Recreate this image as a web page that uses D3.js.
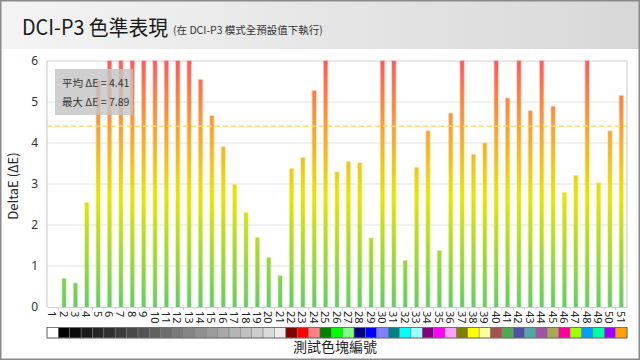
<!DOCTYPE html>
<html><head><meta charset="utf-8">
<script src="https://cdn.jsdelivr.net/npm/d3@7"></script>
<style>html,body{margin:0;padding:0;background:#fff}svg{display:block;font-family:"Noto Sans CJK TC","Noto Sans",sans-serif}</style>
</head><body><svg id="c" width="640" height="360"></svg>
<script>
const categories = d3.range(1, 52).map(String);
const deltaE = [0,0.69,0.58,2.54,5.52,6.85,7.12,7.89,7.45,7.30,6.95,7.20,6.60,5.54,4.66,3.90,2.98,2.30,1.69,1.20,0.76,3.37,3.64,5.27,6.70,3.29,3.54,3.51,1.68,7.05,6.90,1.13,3.40,4.29,1.37,4.72,6.80,3.72,3.99,7.15,5.09,6.75,4.78,7.00,4.89,2.79,3.20,6.65,3.02,4.29,5.15];
const swatches = ["#ffffff","#000000","#0b0b0b","#1b1b1b","#262626","#303030","#3b3b3b","#484848","#545454","#616161","#6d6d6d","#797979","#858585","#909090","#9c9c9c","#a8a8a8","#b4b4b4","#c0c0c0","#cccccc","#dadada","#ececec",
"#800000","#ff0000","#ff8080","#008000","#00ff00","#80ff80","#000080","#0000ff","#8080ff","#008080","#00ffff","#a0ffff","#800080","#ff00ff","#ffa0ff","#808000","#ffff00","#ffffa0","#a85050","#50a850","#5050a8","#50a8a8","#a850a8","#a8a850","#ff00a0","#a0ff00","#00a0ff","#00ffa0","#a000ff","#ffa000"];
const yTicks = [0,1,2,3,4,5,6];
const avgDE = 4.41, maxDE = 7.89;
const title = "DCI-P3 色準表現", subtitle = "(在 DCI-P3 模式全預設值下執行)";
const yTitle = "DeltaE (ΔE)", xTitle = "測試色塊編號";

const svg = d3.select("#c");
const W = 640, H = 360;
const m = {l:47, r:627, t:61, b:307};
const defs = svg.append("defs");
const hg = defs.append("linearGradient").attr("id","hdr").attr("x1","0").attr("x2","1").attr("y1","0").attr("y2","0");
hg.append("stop").attr("offset","0").attr("stop-color","#f4f4f4");
hg.append("stop").attr("offset","1").attr("stop-color","#d8d8d8");
svg.append("rect").attr("x",0).attr("y",0).attr("width",W).attr("height",49).attr("fill","url(#hdr)");
svg.append("rect").attr("x",0.75).attr("y",0.75).attr("width",W-1.5).attr("height",H-1.5).attr("fill","none").attr("stroke","#8a8a8a").attr("stroke-width",1.5);

const tt = svg.append("text").attr("x",22).attr("y",35).attr("font-size",21).attr("fill","#1a1a1a").text(title);
const tw = tt.node().getComputedTextLength();
const tScale = Math.min(1, 146 / tw);
tt.attr("textLength", tw*tScale).attr("lengthAdjust","spacingAndGlyphs");
svg.append("text").attr("x",22 + tw*tScale + 5).attr("y",34).attr("font-size",10.5).attr("fill","#333").text(subtitle);

const x = d3.scaleBand().domain(categories).range([m.l, m.r]).padding(0);
const y = d3.scaleLinear().domain([0,6]).range([m.b, m.t]).clamp(true);

const bg = defs.append("linearGradient").attr("id","bar").attr("gradientUnits","userSpaceOnUse")
  .attr("x1",0).attr("x2",0).attr("y1",y(0)).attr("y2",y(6));
[[0,"#66cc66"],[0.45,"#e6e600"],[0.7,"#f8a830"],[1,"#ff5a5a"]].forEach(s=>bg.append("stop").attr("offset",s[0]).attr("stop-color",s[1]));

// grid
svg.append("g").selectAll("line").data(yTicks.filter(t=>t>0&&t<6)).join("line")
  .attr("x1",m.l).attr("x2",m.r).attr("y1",d=>y(d)).attr("y2",d=>y(d)).attr("stroke","#ececec").attr("stroke-width",1.5);
// frame
svg.append("path").attr("d",`M${m.l},${m.b}V${m.t}H${m.r}V${m.b}`).attr("fill","none").attr("stroke","#d0d0d0").attr("stroke-width",1.2);

// y axis labels
const ya = svg.append("g").attr("transform",`translate(${m.l},0)`).call(d3.axisLeft(y).tickValues(yTicks).tickSize(0).tickPadding(10).tickFormat(d3.format("d")));
ya.select(".domain").remove();
ya.selectAll("text").attr("font-size",12).attr("fill","#333").attr("font-family","'Noto Sans',sans-serif").attr("x",-9);

// bars
const bw = 3.6;
const gB = svg.append("g");
gB.selectAll("rect.halo").data(deltaE).join("rect").attr("class","halo")
  .attr("x",(d,i)=>x(categories[i])+x.bandwidth()/2-bw/2-0.8).attr("width",bw+1.6)
  .attr("y",d=>y(d)-0.8).attr("height",d=>d>0?y(0)-y(d)+0.8:0).attr("fill","url(#bar)").attr("opacity",0.35);
gB.selectAll("rect.bar").data(deltaE).join("rect").attr("class","bar")
  .attr("x",(d,i)=>x(categories[i])+x.bandwidth()/2-bw/2).attr("width",bw)
  .attr("y",d=>y(d)).attr("height",d=>y(0)-y(d)).attr("fill","url(#bar)");

// average line
svg.append("line").attr("x1",m.l).attr("x2",m.r).attr("y1",y(avgDE)).attr("y2",y(avgDE))
  .attr("stroke","#ffd870").attr("stroke-width",1.5).attr("stroke-dasharray","5,3").attr("opacity",0.9);

// x axis
const xa = svg.append("g").attr("transform",`translate(0,${m.b})`).call(d3.axisBottom(x).tickSize(0).tickPadding(0));
xa.select(".domain").attr("stroke","#cfcfcf");
xa.selectAll("text").attr("font-size",11).attr("fill","#222").attr("font-family","'Noto Sans',sans-serif")
  .attr("transform","rotate(90)").attr("text-anchor","start").attr("dominant-baseline","central").attr("dy",0).attr("x",4).attr("y",0);
svg.append("g").selectAll("line").data(categories.slice(1)).join("line")
  .attr("x1",d=>x(d)).attr("x2",d=>x(d)).attr("y1",m.b).attr("y2",m.b+3).attr("stroke","#cfcfcf");

// swatches
svg.append("g").selectAll("rect").data(swatches).join("rect")
  .attr("x",(d,i)=>x(categories[i])).attr("y",327.5).attr("width",x.bandwidth()).attr("height",10.5)
  .attr("fill",d=>d).attr("stroke","#7a7a7a").attr("stroke-width",0.5);
svg.append("rect").attr("x",m.l).attr("y",327.5).attr("width",m.r-m.l).attr("height",10.5).attr("fill","none").attr("stroke","#666").attr("stroke-width",0.8);

// stats box
svg.append("rect").attr("x",55).attr("y",69).attr("width",78).attr("height",46).attr("fill","#c4c4c4").attr("opacity",0.82);
const st = svg.append("g").attr("font-size",10.5).attr("fill","#333");
st.append("text").attr("x",62).attr("y",87).text(`平均 ΔE = ${avgDE.toFixed(2)}`);
st.append("text").attr("x",62).attr("y",106).text(`最大 ΔE = ${maxDE.toFixed(2)}`);

// axis titles
svg.append("text").attr("transform","translate(18,186) rotate(-90)").attr("text-anchor","middle").attr("font-size",13).attr("fill","#222").text(yTitle);
svg.append("text").attr("x",335).attr("y",352).attr("text-anchor","middle").attr("font-size",14).attr("fill","#222").text(xTitle);
</script></body></html>
